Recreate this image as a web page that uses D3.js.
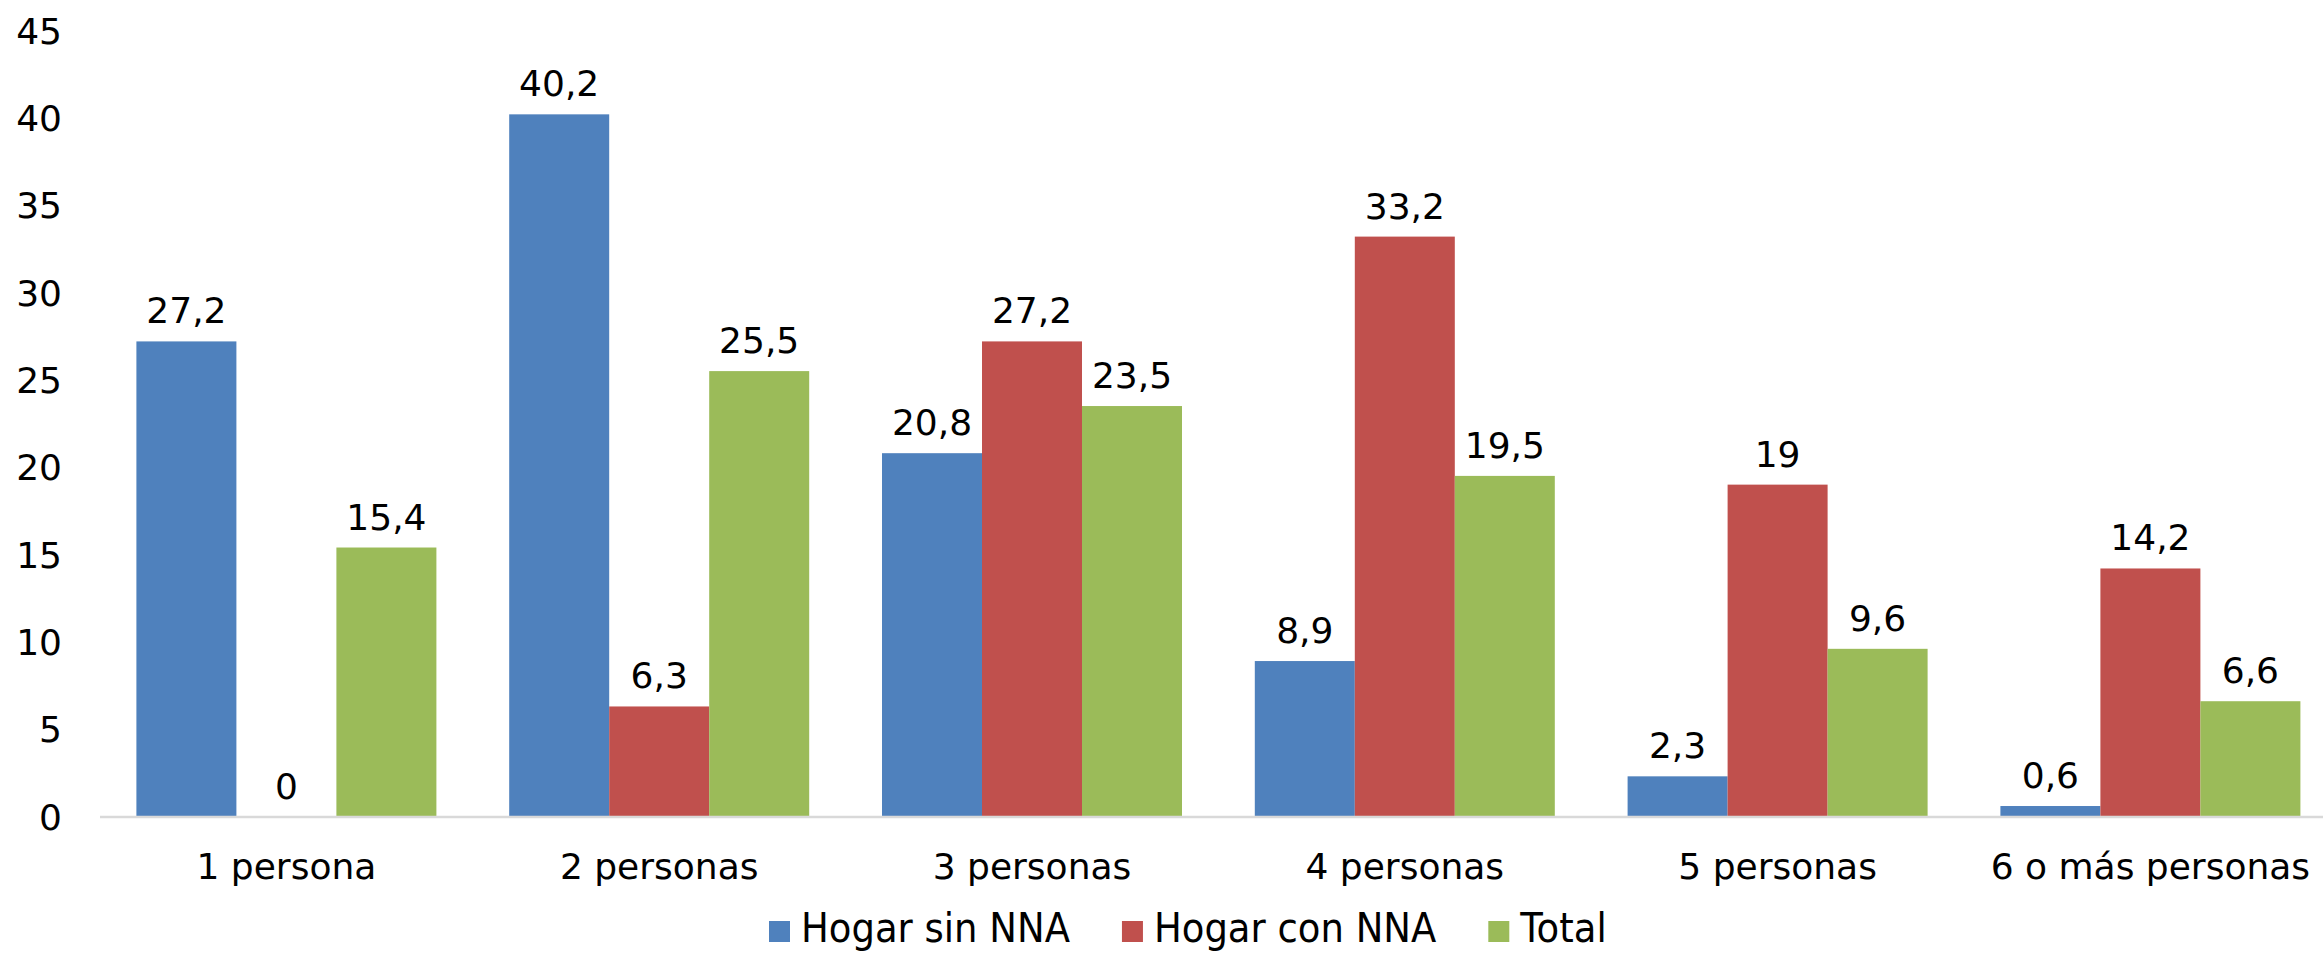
<!DOCTYPE html>
<html>
<head>
<meta charset="utf-8">
<script src="https://cdn.jsdelivr.net/npm/d3@7"></script>
<style>
  html, body { margin: 0; padding: 0; background: #fff; overflow: hidden; }
  svg { display: block; }
  text { font-family: "DejaVu Sans", Verdana, sans-serif; fill: #000; }
</style>
</head>
<body>
<svg id="chart" width="2323" height="953"></svg>
<script>
const categories = ["1 persona", "2 personas", "3 personas", "4 personas", "5 personas", "6 o más personas"];
const seriesNames = ["Hogar sin NNA", "Hogar con NNA", "Total"];
const hogarSinNNA = [27.2, 40.2, 20.8, 8.9, 2.3, 0.6];
const hogarConNNA = [0, 6.3, 27.2, 33.2, 19, 14.2];
const total = [15.4, 25.5, 23.5, 19.5, 9.6, 6.6];
const yTicks = [0, 5, 10, 15, 20, 25, 30, 35, 40, 45];
const colors = ["#4F81BD", "#C0504D", "#9BBB59"];

const seriesValues = [hogarSinNNA, hogarConNNA, total];

const svg = d3.select("#chart");
const W = 2323, H = 953;

const plotLeft = 100, step = 372.8;
const plotRight = plotLeft + step * categories.length;

const y = d3.scaleLinear().domain([0, 45]).range([816.5, 30.5]);
const pad = 72.8 / step;
const x0 = d3.scaleBand().domain(categories).range([plotLeft, plotRight])
  .paddingInner(pad).paddingOuter(pad / 2);
const x1 = d3.scaleBand().domain(seriesNames).range([0, x0.bandwidth()]).padding(0);

// y axis labels (no line)
const yAxis = d3.axisLeft(y).tickValues(yTicks).tickSize(0).tickPadding(0)
  .tickFormat(d => String(d));
const gy = svg.append("g").attr("transform", "translate(62,0)").call(yAxis);
gy.select(".domain").remove();
gy.selectAll("text").attr("font-size", 36).attr("font-family", "DejaVu Sans, Verdana, sans-serif")
  .attr("fill", "#000").attr("dy", "0.35em");

// bars
const groups = svg.append("g").selectAll("g").data(categories).join("g")
  .attr("transform", d => `translate(${x0(d)},0)`);

groups.each(function(cat, ci) {
  const g = d3.select(this);
  seriesNames.forEach((s, si) => {
    const v = seriesValues[si][ci];
    g.append("rect")
      .attr("x", x1(s))
      .attr("y", y(v))
      .attr("width", x1.bandwidth())
      .attr("height", y(0) - y(v))
      .attr("fill", colors[si]);
    g.append("text")
      .attr("x", x1(s) + x1.bandwidth() / 2)
      .attr("y", y(v) - 18)
      .attr("text-anchor", "middle")
      .attr("font-size", 36)
      .text(String(v).replace(".", ","));
  });
});

// x axis line
svg.append("line")
  .attr("x1", plotLeft).attr("x2", W)
  .attr("y1", y(0) + 0.5).attr("y2", y(0) + 0.5)
  .attr("stroke", "#D9D9D9").attr("stroke-width", 2.5);

// x axis labels
const xAxis = d3.axisBottom(x0).tickSize(0).tickPadding(0);
const gx = svg.append("g").attr("transform", `translate(0,${879})`).call(xAxis);
gx.select(".domain").remove();
gx.selectAll("text").attr("font-size", 36).attr("font-family", "DejaVu Sans, Verdana, sans-serif")
  .attr("fill", "#000").attr("dy", 0).attr("y", 0);

// legend
const legend = svg.append("g");
const sq = 21, gapText = 11, gapItem = 52, legFont = 40, sx = 0.925;
let cx = 769;
seriesNames.forEach((s, i) => {
  legend.append("rect").attr("x", cx).attr("y", 921).attr("width", sq).attr("height", sq)
    .attr("fill", colors[i]);
  const tx = cx + sq + gapText;
  const t = legend.append("text")
    .attr("transform", `translate(${tx},942) scale(${sx},1)`)
    .attr("font-size", legFont)
    .text(s);
  const w = t.node().getComputedTextLength() * sx;
  cx = tx + w + gapItem;
});
</script>
</body>
</html>
